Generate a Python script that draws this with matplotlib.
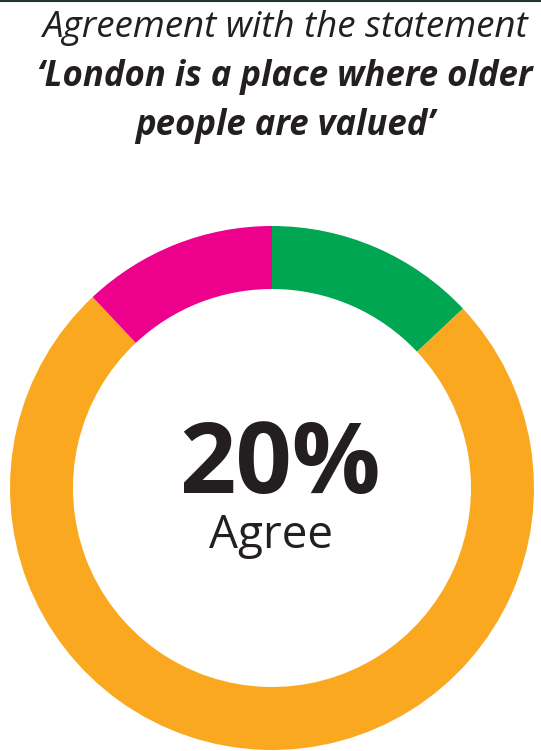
import matplotlib.pyplot as plt
from matplotlib.lines import Line2D

# segment shares (clockwise from 12 o'clock)
labels = ["Agree", "Neither", "Disagree"]
shares = [13, 75, 12]
colours = ["#00A651", "#F9A81F", "#EC008C"]

headline = "20%"
headline_label = "Agree"
title_lines = ["Agreement with the statement",
               "\u2018London is a place where older",
               "people are valued\u2019"]

W, H = 541, 751
fig = plt.figure(figsize=(W / 100, H / 100), dpi=100)

# donut axes: centre (272, 488) px, outer radius 262 px
cx, cy, r = 272, 488, 262
ax = fig.add_axes([(cx - r) / W, (H - cy - r) / H, 2 * r / W, 2 * r / H])
ax.pie(shares, colors=colours, startangle=90, counterclock=False,
       radius=1, wedgeprops=dict(width=63 / r, linewidth=0))
ax.set_xlim(-1, 1)
ax.set_ylim(-1, 1)
ax.set_aspect("equal")
ax.axis("off")

font = "Open Sans"
ink = "#231F20"


def px(x, y):
    return x / W, 1 - y / H


fig.text(*px(285, 37), title_lines[0], family=font, style="italic",
         fontsize=26.5, color=ink, ha="center", va="baseline")
fig.text(*px(285, 86), title_lines[1], family=font, style="italic",
         weight="bold", fontsize=25, color=ink, ha="center", va="baseline")
fig.text(*px(285, 135), title_lines[2], family=font, style="italic",
         weight="bold", fontsize=25, color=ink, ha="center", va="baseline")

fig.text(*px(280, 493), headline, family=font, weight="bold", fontsize=71,
         color=ink, ha="center", va="baseline")
fig.text(*px(271, 548), headline_label, family=font, fontsize=33,
         color=ink, ha="center", va="baseline")

# thin frame line along the top edge
fig.add_artist(Line2D([0, 1], [1 - 1 / H, 1 - 1 / H], color="#1E3A2E",
                      linewidth=1.5, transform=fig.transFigure))

fig.savefig("out.png", dpi=100)
